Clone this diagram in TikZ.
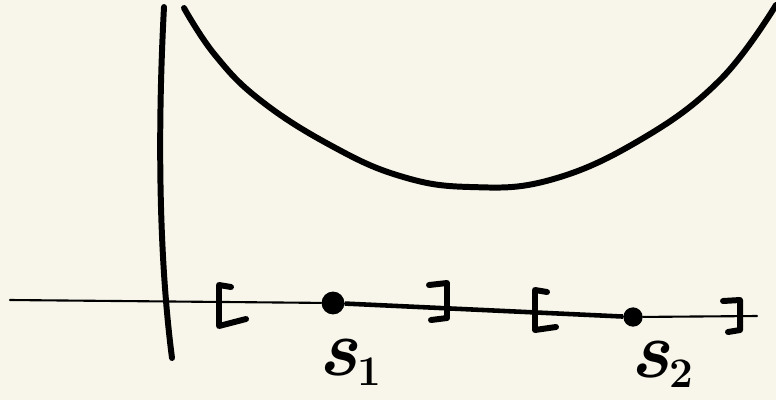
\documentclass[tikz,border=0pt]{standalone}
\usepackage{fontspec}
\definecolor{paper}{HTML}{F8F6EA}
\newcommand{\subidx}[1]{\raisebox{-0.13em}{\fontsize{24}{24}\selectfont\upshape #1}}
\tikzset{
  pen/.style={line width=3.4pt, line cap=round, line join=round},
  thinpen/.style={line width=1.2pt, line cap=round},
  dot/.style={circle, fill=black, inner sep=0pt, minimum size=13pt},
  lbl/.style={font=\fontsize{46}{48}\selectfont\bfseries\itshape, inner sep=0pt, anchor=base west}
}
\begin{document}
\begin{tikzpicture}[x=0.02cm, y=-0.02cm]

\fill[paper] (0,0) rectangle (776,400);
\useasboundingbox (0,0) rectangle (776,400);

\coordinate (xstart) at (10,300);
\coordinate (xend) at (757,316);
\coordinate (ytop) at (164,7);
\coordinate (ybot) at (172,358);

\node[dot] (s1) at (333,303) {};
\node[dot, minimum size=11pt] (s2) at (633,317) {};

\node[lbl] (s1label) at (318,375) {s\subidx{1}};
\node[lbl] (s2label) at (630,377) {s\subidx{2}};

\draw[thinpen] (xstart) -- (s1) -- (s2) -- (xend);
\draw[line width=2.6pt] (s1) -- (s2);
\draw[pen] (ytop) .. controls (158,120) and (158,250) .. (ybot);

\draw[pen] plot[smooth, tension=0.7] coordinates {(184,8) (215,55) (260,100) (330,145) (400,176) (470,187) (550,180) (640,140) (720,80) (776,5)};

\draw[pen] (231,287) -- (219,285) -- (219,326) -- (246,319);
\draw[pen] (429,285) -- (447,283) -- (447,318) -- (431,320);
\draw[pen] (547,292) -- (535,290) -- (535,330) -- (556,327);
\draw[pen] (723,301) -- (740,300) -- (740,330) -- (728,332);

\end{tikzpicture}
\end{document}
